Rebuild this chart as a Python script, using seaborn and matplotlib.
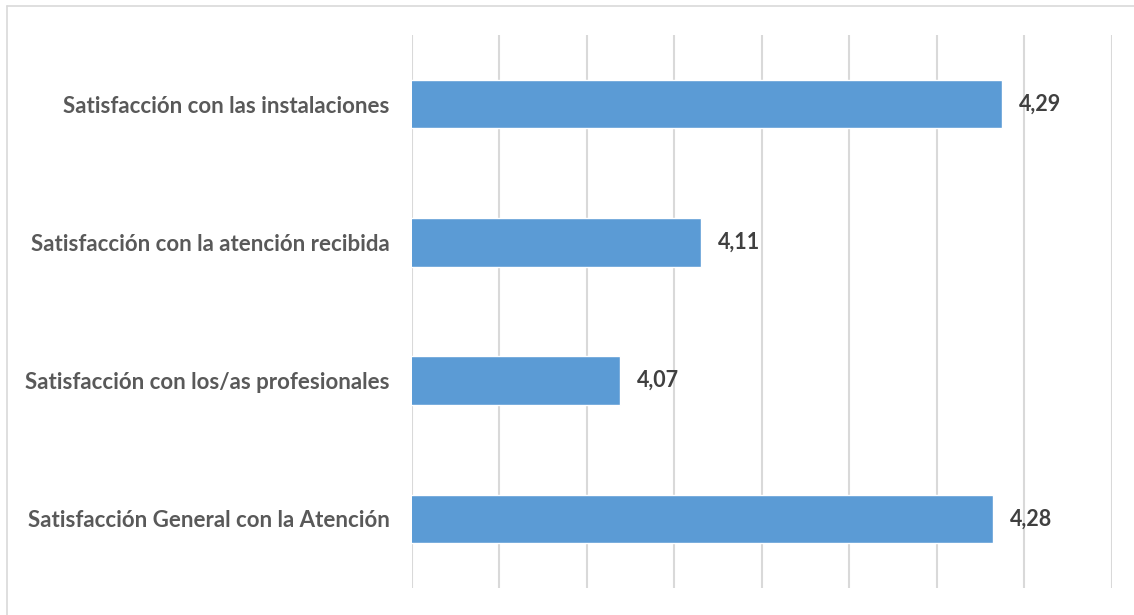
import matplotlib
matplotlib.use('Agg')
import matplotlib.pyplot as plt
import seaborn as sns
import numpy as np
import pandas as pd

# Datos del gráfico
categorias = [
    'Satisfacción con las instalaciones',
    'Satisfacción con la atención recibida',
    'Satisfacción con los/as profesionales',
    'Satisfacción General con la Atención',
]
# longitudes de barra (las etiquetas van redondeadas)
valores = [4.287, 4.115, 4.069, 4.282]
etiquetas = ['4,29', '4,11', '4,07', '4,28']

sns.set_theme(style='white')
plt.rcParams['font.family'] = ['Lato', 'DejaVu Sans']

df = pd.DataFrame({'categoria': categorias, 'valor': valores})

fig = plt.figure(figsize=(11.34, 6.15), dpi=100)
ax = fig.add_axes([0.3633, 0.044, 0.6173, 0.899])

sns.barplot(data=df, x='valor', y='categoria', orient='h', color='#5b9bd5',
            width=0.35, saturation=1, ax=ax)

ax.set_xlim(3.95, 4.35)
ax.set_xticks(np.arange(3.95, 4.3501, 0.05))
ax.set_xticklabels([])
ax.tick_params(axis='both', length=0)
ax.grid(axis='x', color='#d9d9d9', linewidth=1.5)
ax.set_axisbelow(True)
for s in ax.spines.values():
    s.set_visible(False)
ax.set_xlabel('')
ax.set_ylabel('')

for lbl in ax.get_yticklabels():
    lbl.set_fontsize(16)
    lbl.set_fontweight('bold')
    lbl.set_color('#595959')
ax.tick_params(axis='y', pad=16)

for i, (v, t) in enumerate(zip(valores, etiquetas)):
    ax.annotate(t, xy=(v, i), xytext=(17, 0), textcoords='offset pixels',
                va='center', ha='left', fontsize=15.5, fontweight='bold',
                color='#404040')

# Marco exterior (solo se ven borde superior e izquierdo)
fig.add_artist(plt.Line2D([7 / 1134, 1], [1 - 6 / 615, 1 - 6 / 615],
                          color='#d9d9d9', linewidth=1.2, transform=fig.transFigure))
fig.add_artist(plt.Line2D([7 / 1134, 7 / 1134], [0, 1 - 6 / 615],
                          color='#d9d9d9', linewidth=1.2, transform=fig.transFigure))

fig.savefig('out.png', dpi=100, facecolor='white')
